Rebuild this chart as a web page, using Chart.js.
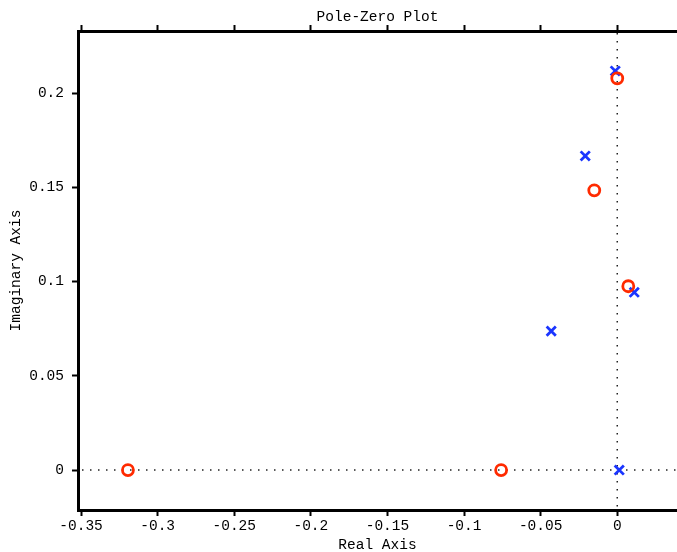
<!DOCTYPE html>
<html>
<head>
<meta charset="utf-8">
<script src="https://cdn.jsdelivr.net/npm/chart.js@4.4.0/dist/chart.umd.min.js"></script>
<style>
  html, body { margin: 0; padding: 0; background: #fff; overflow: hidden; }
  #wrap { width: 677px; height: 552px; }
</style>
</head>
<body>
<div id="wrap"><canvas id="pz" width="677" height="552"></canvas></div>
<script>
// poles (x) and zeros (o), real / imaginary parts
var poleRe = [-0.0013, -0.0209, 0.0111, -0.0431, 0.0013];
var poleIm = [0.2117, 0.1666, 0.0943, 0.0737, 0.0];
var zeroRe = [0.0, -0.0150, 0.0072, -0.3194, -0.0758];
var zeroIm = [0.2078, 0.1484, 0.0975, 0.0, 0.0];

var xTicks = [-0.35, -0.3, -0.25, -0.2, -0.15, -0.1, -0.05, 0];
var yTicks = [0, 0.05, 0.1, 0.15, 0.2];

var xMin = -0.352, xMax = 0.039;
var yMin = -0.0212, yMax = 0.2329;

var font = { family: '"Liberation Mono", "DejaVu Sans Mono", monospace', size: 14.5, lineHeight: 1 };

function pts(re, im) {
    return re.map(function (v, i) { return { x: v, y: im[i] }; });
}

function setTicks(list) {
    return function (scale) {
        scale.ticks = list.map(function (v) { return { value: v }; });
    };
}

function fmt(v) {
    return String(Math.round(v * 1000) / 1000);
}

function fitH(h) {
    return function (s) { s.height = h; s.paddingLeft = 0; s.paddingRight = 0; };
}

// dotted lines through the origin
var zeroLines = {
    id: 'zeroLines',
    beforeDatasetsDraw: function (chart) {
        var c = chart.ctx, a = chart.chartArea;
        var x0 = chart.scales.x.getPixelForValue(0);
        var y0 = chart.scales.y.getPixelForValue(0);
        c.save();
        c.strokeStyle = '#222';
        c.lineWidth = 1.5;
        c.setLineDash([1.5, 6.5]);
        c.beginPath();
        c.moveTo(x0, a.top + 2);
        c.lineTo(x0, a.bottom - 2);
        c.moveTo(a.left + 4, y0);
        c.lineTo(a.right, y0);
        c.stroke();
        c.restore();
    }
};

var axisGrid = { display: true, drawOnChartArea: false, drawTicks: true, tickLength: 6, tickWidth: 2, tickColor: '#000' };
var axisBorder = { display: true, width: 3, color: '#000' };

new Chart(document.getElementById('pz'), {
    type: 'scatter',
    data: {
        datasets: [{
            label: 'Zeros',
            data: pts(zeroRe, zeroIm),
            pointStyle: 'circle',
            pointRadius: 5.5,
            pointBorderWidth: 2.8,
            borderColor: '#ff2a00',
            backgroundColor: 'rgba(0,0,0,0)',
            order: 0
        }, {
            label: 'Poles',
            data: pts(poleRe, poleIm),
            pointStyle: 'crossRot',
            pointRadius: 6.5,
            pointBorderWidth: 2.8,
            borderColor: '#1a35ff',
            backgroundColor: '#1a35ff',
            order: 1
        }]
    },
    options: {
        responsive: false,
        animation: false,
        layout: { padding: 0, autoPadding: false },
        plugins: {
            legend: { display: false },
            tooltip: { enabled: false },
            title: { display: false }
        },
        scales: {
            x: {
                type: 'linear',
                position: 'bottom',
                min: xMin,
                max: xMax,
                afterBuildTicks: setTicks(xTicks),
                afterFit: fitH(42),
                grid: axisGrid,
                border: axisBorder,
                ticks: { color: '#000', font: font, padding: 3, maxRotation: 0, autoSkip: false, callback: fmt },
                title: { display: true, text: 'Real Axis', color: '#000', font: font, padding: 0 }
            },
            x2: {
                type: 'linear',
                position: 'top',
                min: xMin,
                max: xMax,
                afterBuildTicks: setTicks(xTicks),
                afterFit: fitH(31),
                grid: axisGrid,
                border: axisBorder,
                ticks: { display: false },
                title: { display: true, text: 'Pole-Zero Plot', color: '#000', font: font, padding: { top: 10, bottom: 0 } }
            },
            y: {
                type: 'linear',
                position: 'left',
                min: yMin,
                max: yMax,
                afterBuildTicks: setTicks(yTicks),
                afterFit: function (s) { s.width = 78; s.paddingTop = 0; s.paddingBottom = 0; },
                grid: axisGrid,
                border: axisBorder,
                ticks: { color: '#000', font: font, padding: 8, autoSkip: false, callback: fmt },
                title: { display: true, text: 'Imaginary Axis', color: '#000', font: font, padding: { top: 9, bottom: 0 } }
            }
        }
    },
    plugins: [zeroLines]
});
</script>
</body>
</html>
